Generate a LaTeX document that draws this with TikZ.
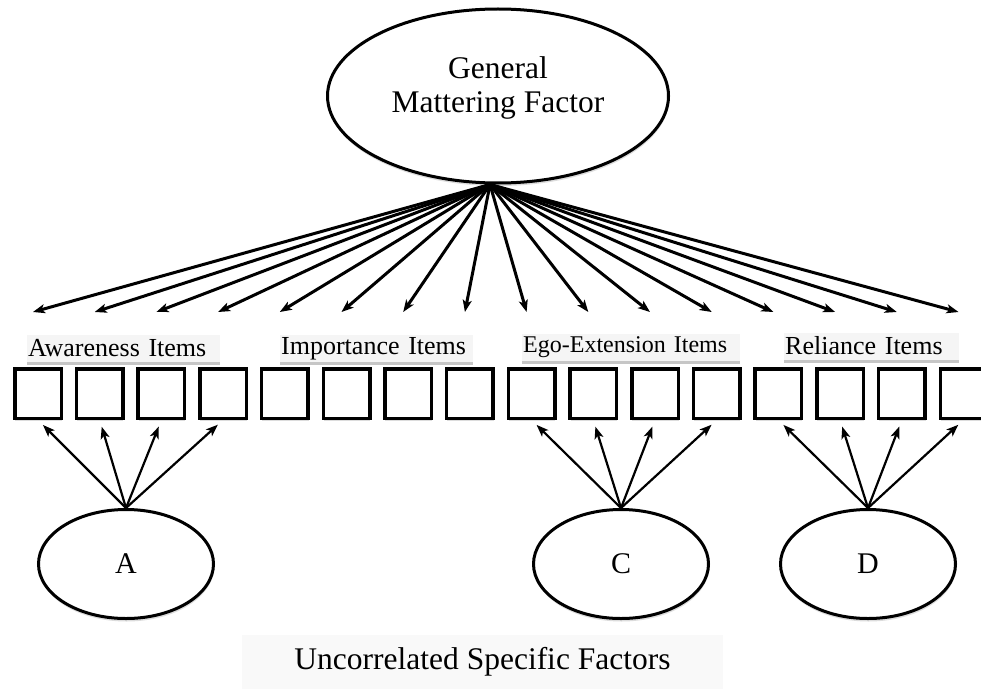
\documentclass[tikz,border=0pt]{standalone}
\usepackage{fontspec}
\setmainfont{Liberation Serif}
\usetikzlibrary{arrows.meta,positioning,calc,shapes.geometric,shadows}

\begin{document}
\begin{tikzpicture}[x=1pt,y=-1pt,>={Stealth[length=12pt,width=9pt,inset=3pt]},
  item/.style={draw,line width=3.5pt,minimum width=46.5pt,minimum height=49.5pt,fill=white,drop shadow={shadow xshift=0.5pt,shadow yshift=-3pt,fill=gray!45,opacity=.6}},
  fac/.style={ellipse,draw,line width=3pt,fill=white,inner sep=0pt,drop shadow={shadow xshift=0.5pt,shadow yshift=-3pt,fill=gray!45,opacity=.6}},
  tag/.style={fill=gray!8,anchor=west,inner xsep=1pt,inner ysep=0pt,minimum height=27pt,text width=#1,align=left,font=\fontsize{26}{30}\selectfont,drop shadow={shadow xshift=0pt,shadow yshift=-3pt,fill=gray!45,opacity=1}},
  load/.style={->,line width=3pt},
  spec/.style={->,line width=2.2pt,shorten >=7pt}]
\clip (0,0) rectangle (981,690);
\fill[white] (0,0) rectangle (981,690);
\node[fac,minimum width=341pt,minimum height=174pt] (G) at (498,96) {};
\node[align=center,font=\fontsize{31.5}{34}\selectfont] (gtxt) at (498,88) {General\\Mattering Factor};
\foreach \i in {0,...,15}{
  \node[item] (b\i) at ({38+61.7*\i},393.5) {};
  \coordinate (t\i) at ([xshift=-5pt,yshift=55pt]b\i.north);
}
\node[tag=191pt] (aw) at (27,348.5) {Awareness Items};
\node[tag=191pt] (im) at (280,348.5) {Importance Items};
\node[tag=216pt,font=\fontsize{24}{28}\selectfont] (eg) at (522,347) {Ego-Extension Items};
\node[tag=173pt] (re) at (784,346) {Reliance Items};
\foreach \i in {0,...,15}
  \draw[load] ([xshift=-8pt]G.south) -- (t\i);
\node[fac,minimum width=175pt,minimum height=109pt,font=\fontsize{30}{36}\selectfont] (A) at (126,564) {A};
\node[fac,minimum width=175pt,minimum height=109pt,font=\fontsize{30}{36}\selectfont] (C) at (621,564) {C};
\node[fac,minimum width=175pt,minimum height=109pt,font=\fontsize{30}{36}\selectfont] (D) at (868,564) {D};
\foreach \i in {0,...,3}
  \draw[spec] (A.north) -- (b\i.south);
\foreach \i in {8,...,11}
  \draw[spec] (C.north) -- (b\i.south);
\foreach \i in {12,...,15}
  \draw[spec] (D.north) -- (b\i.south);
\node[fill=gray!5,minimum width=481pt,minimum height=54pt,font=\fontsize{31.5}{36}\selectfont] (unc) at (482.5,662) {Uncorrelated Specific Factors};
\end{tikzpicture}
\end{document}
